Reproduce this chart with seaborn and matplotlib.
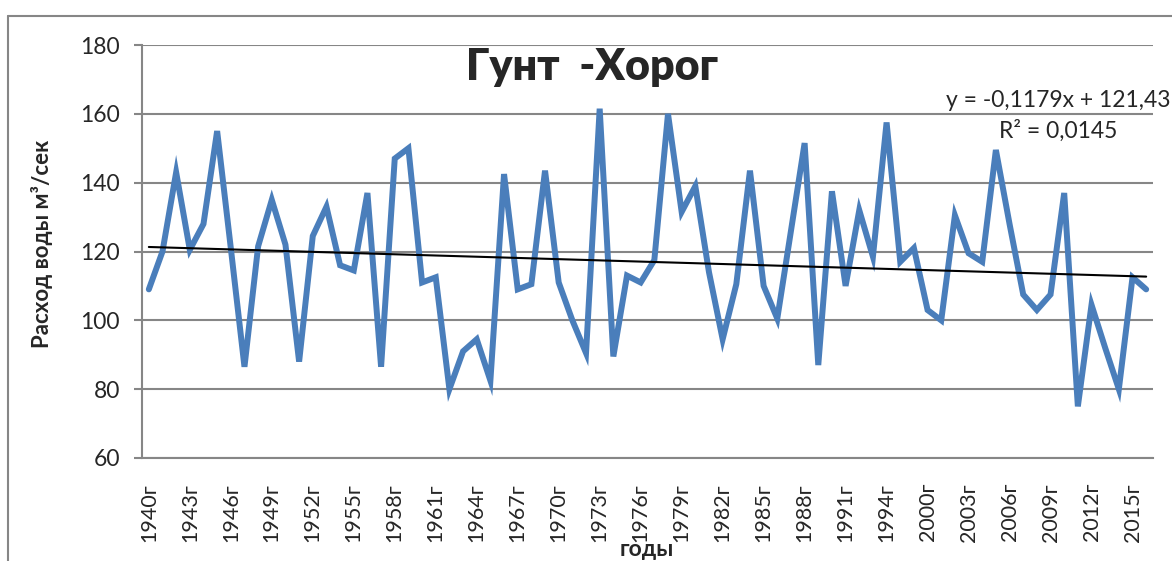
import numpy as np
import pandas as pd
import matplotlib
matplotlib.use("Agg")
import matplotlib.pyplot as plt
from matplotlib.lines import Line2D
import seaborn as sns

# ---- data ----
years = list(range(1940, 1995)) + [1996, 1998] + list(range(2000, 2017))
year_labels = [f"{y}г" for y in years]
flow = [109, 120, 143, 120.5, 128, 155, 121, 86.5, 121.5, 135,
        122, 88, 124.5, 133, 116, 114.5, 137, 86.5, 147, 150,
        111, 112.5, 80, 91, 94.5, 82.5, 142.5, 109, 110.5, 143.5,
        111, 100, 90.5, 161.5, 89.5, 113, 111, 117.5, 160, 131.5,
        139, 114, 94.5, 110.5, 143.5, 110, 100.5, 126, 151.5, 87,
        137.5, 110, 132, 118.5, 157.5, 117, 121, 103, 100, 130.5,
        119.5, 117, 149.5, 128, 107.5, 103, 107.5, 137, 75, 104.5,
        92, 80, 112.5, 109]
trend_slope = -0.1179
trend_intercept = 121.43
y_ticks = [60, 80, 100, 120, 140, 160, 180]
title_text = "Гунт  -Хорог"
ylabel_text = "Расход воды м³/сек"
xlabel_text = "годы"
eq_text = "y = -0,1179x + 121,43"
r2_text = "R² = 0,0145"

df = pd.DataFrame({"pos": np.arange(len(flow)), "label": year_labels, "flow": flow})
df["trend"] = trend_slope * (df["pos"] + 1) + trend_intercept

sns.set_style("white")
plt.rcParams["font.family"] = ["Lato", "DejaVu Sans"]

W, H = 1172, 561
fig = plt.figure(figsize=(W / 100, H / 100), dpi=100)
ax = fig.add_axes([142 / W, 1 - 458 / H, (1153 - 142) / W, (458 - 45) / H])

grid_c = "#868686"
sns.lineplot(data=df, x="pos", y="flow", ax=ax, color="#4A7EBB", linewidth=4.3,
             solid_joinstyle="miter", zorder=3)
sns.lineplot(data=df, x="pos", y="trend", ax=ax, color="black", linewidth=1.5, zorder=4)

ax.set_xlim(-0.5, len(flow) - 0.5)
ax.set_ylim(60, 180)
ax.set_yticks(y_ticks)
ax.set_xticks(df["pos"][::3])
ax.set_xticklabels(df["label"][::3], rotation=90, va="top", ha="center")
ax.set_xlabel("")
ax.set_ylabel("")
ax.yaxis.grid(True, color=grid_c, linewidth=1.5)
ax.xaxis.grid(False)
for s in ["top", "right"]:
    ax.spines[s].set_visible(False)
for s in ["left", "bottom"]:
    ax.spines[s].set_color(grid_c)
    ax.spines[s].set_linewidth(1.5)
ax.tick_params(axis="y", length=6, width=1.5, color=grid_c, pad=10, labelsize=16.5, left=True)
ax.tick_params(axis="x", length=0, pad=18, labelsize=15.5, bottom=False)

fig.text(592 / W, 1 - 80 / H, title_text, ha="center", va="baseline",
         fontsize=31, fontweight="heavy")
fig.text(42 / W, 1 - 244 / H, ylabel_text, ha="center", va="center", rotation=90,
         fontsize=16, fontweight="bold")
fig.text(647 / W, 1 - 550 / H, xlabel_text, ha="center", va="center",
         fontsize=16.5, fontweight="bold")
fig.text(1058 / W, 1 - 107 / H, eq_text, ha="center", va="baseline", fontsize=16.5)
fig.text(1058 / W, 1 - 138 / H, r2_text, ha="center", va="baseline", fontsize=16.5)

# outer chart frame
fig.add_artist(Line2D([8 / W, 1.01], [1 - 16 / H, 1 - 16 / H], color=grid_c, lw=1.5,
                      transform=fig.transFigure))
fig.add_artist(Line2D([8 / W, 8 / W], [1 - 16 / H, -0.01], color=grid_c, lw=1.5,
                      transform=fig.transFigure))

fig.savefig("out.png", dpi=100)
